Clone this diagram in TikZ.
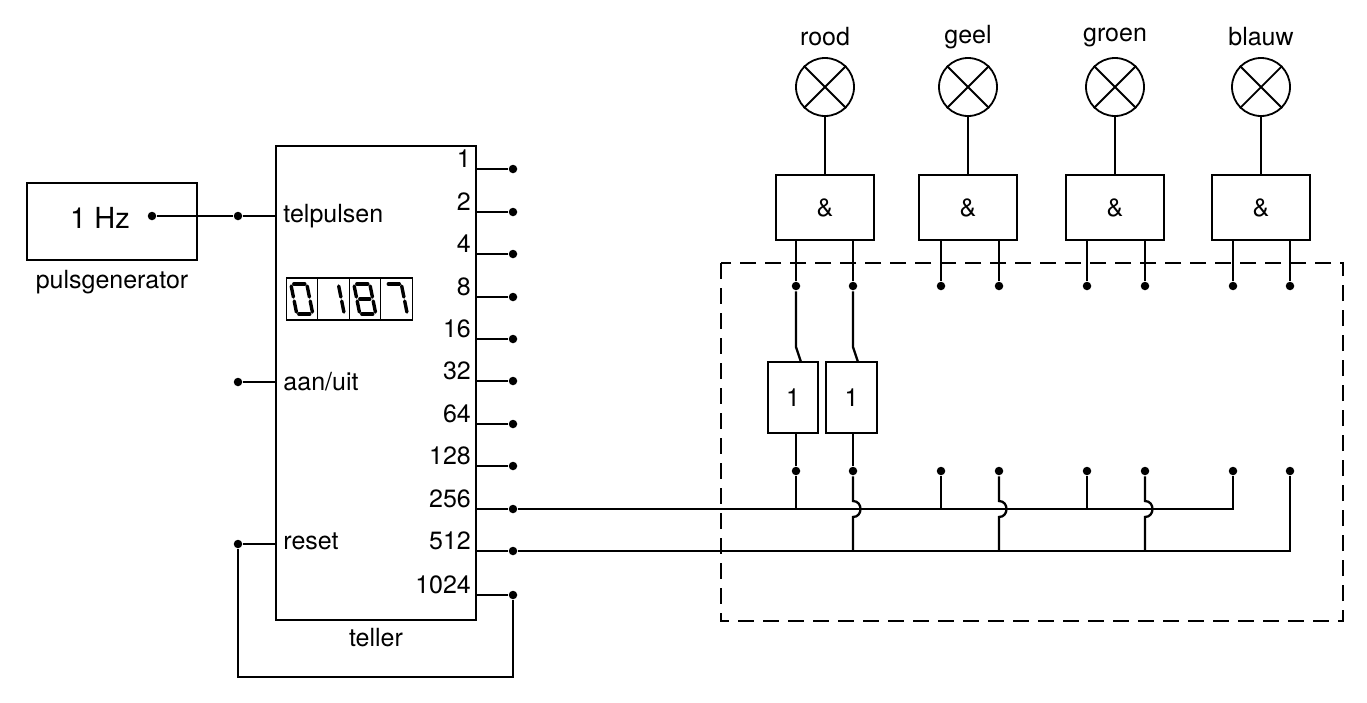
\documentclass[tikz,border=0pt]{standalone}
\usepackage{fontspec}
\setmainfont{TeX Gyre Heros}
\begin{document}
\begin{tikzpicture}[x=1pt,y=-1pt,line width=2.3pt,
  dot/.style={circle,fill,inner sep=0pt,minimum size=8.5pt},
  lbl/.style={font=\fontsize{25}{28}\selectfont},
  box/.style={draw,line width=1.4pt,inner sep=0pt},
  seg/.style={line width=3.4pt,line cap=round}]
\useasboundingbox (0,0) rectangle (1367,702);
% pulse generator
\node[box,minimum width=170pt,minimum height=77pt] (pg) at (112,221.5) {};
\node[lbl,font=\fontsize{29}{30}\selectfont] (hz) at (100,218) {1 Hz};
\node[lbl,anchor=north] (pgl) at (112,266) {pulsgenerator};
\node[dot] (pgo) at (152,216) {};
\node[dot] (tin) at (238,216) {};
% counter
\node[box,minimum width=200pt,minimum height=474pt] (tel) at (376,383) {};
\node[lbl,anchor=north] (tell) at (376,624) {teller};
\node[lbl,anchor=west] (tp) at (279,216) {telpulsen};
\node[lbl,anchor=west] (au) at (279,382) {aan/uit};
\node[lbl,anchor=west] (rs) at (279,541) {reset};
\node[dot] (aud) at (238,382) {};
\node[dot] (rsd) at (238,544) {};
\draw (pgo) -- (tin) -- (276,216);
\draw (aud) -- (276,382);
\draw (rsd) -- (276,544);
\foreach \v/\y in {1/169,2/212,4/254,8/297,16/339,32/381,64/424,128/466,256/509,512/551,1024/595}{
  \node[lbl,anchor=south east,inner sep=1pt] (l\v) at (473,\y+1) {\v};
  \node[dot] (o\v) at (513,\y) {};
  \draw (476,\y) -- (o\v);
}
\coordinate (rb) at (513,677);
\coordinate (lb) at (238,677);
\draw (o1024) -- (rb) -- (lb) -- (rsd);
% seven segment display
\foreach \i in {0,1,2,3}{
  \node[box,minimum width=31.5pt,minimum height=42pt] (c\i) at (302+\i*31.5,299) {};
}
\begin{scope}[xslant=-0.2]
\newcommand{\digitsegs}[2]{%
 \begin{scope}[shift={(#1,299)}]
  \foreach \s in {#2}{
   \ifcase\s
    \draw[seg] (-5,-15) -- (6,-15);\or
    \draw[seg] (8,-13) -- (8,-2);\or
    \draw[seg] (8,2) -- (8,13);\or
    \draw[seg] (-6,15) -- (5,15);\or
    \draw[seg] (-8,2) -- (-8,13);\or
    \draw[seg] (-8,-13) -- (-8,-2);\or
    \draw[seg] (-5,0) -- (5,0);\fi}
 \end{scope}}
\digitsegs{302-60}{0,1,2,3,4,5}
\digitsegs{333.5-60}{1,2}
\digitsegs{365-60}{0,1,2,3,4,5,6}
\digitsegs{396.5-60}{0,1,2}
\end{scope}
% lamps and gates
\foreach \n/\x/\a/\b in {rood/825/796/853,geel/968/941/999,groen/1115/1087/1145,blauw/1261/1233/1290}{
  \node[lbl] (t\n) at (\x,37) {\n};
  \node[draw,circle,line width=1.8pt,minimum size=58pt,inner sep=0pt] (L\n) at (\x,87) {};
  \draw[line width=1.8pt] (L\n.north west) -- (L\n.south east) (L\n.north east) -- (L\n.south west);
  \node[box,minimum width=98pt,minimum height=65pt,lbl] (G\n) at (\x,207.5) {\&};
  \draw (L\n) -- (G\n);
  \node[dot] (ua\n) at (\a,286) {};
  \node[dot] (ub\n) at (\b,286) {};
  \node[dot] (da\n) at (\a,471) {};
  \node[dot] (db\n) at (\b,471) {};
  \draw (\a,240) -- (ua\n);
  \draw (\b,240) -- (ub\n);
}
\draw[line width=2.8pt,dash pattern=on 16pt off 9pt] (721,263) rectangle (1343,621);
% inverters
\node[box,minimum width=50pt,minimum height=71pt,lbl] (n1) at (793,397.5) {1};
\node[box,minimum width=51pt,minimum height=71pt,lbl] (n2) at (851.5,397.5) {1};
\draw (uarood) -- (796,347) -- (801,362);
\draw (ubrood) -- (853,347) -- (858,362);
\draw (796,433) -- (darood);
\draw (853,433) -- (dbrood);
% buses
\coordinate (e256) at (1233,509);
\coordinate (e512) at (1290,551);
\draw (o256) -- (e256) -- (dablauw);
\draw (o512) -- (e512) -- (dbblauw);
\draw (darood) -- (796,509);
\draw (dageel) -- (941,509);
\draw (dagroen) -- (1087,509);
\foreach \n/\x in {rood/853,geel/999,groen/1145}{
  \draw (db\n) -- (\x,501) .. controls (\x+10,501) and (\x+10,517) .. (\x,517) -- (\x,551);
}
\end{tikzpicture}
\end{document}
